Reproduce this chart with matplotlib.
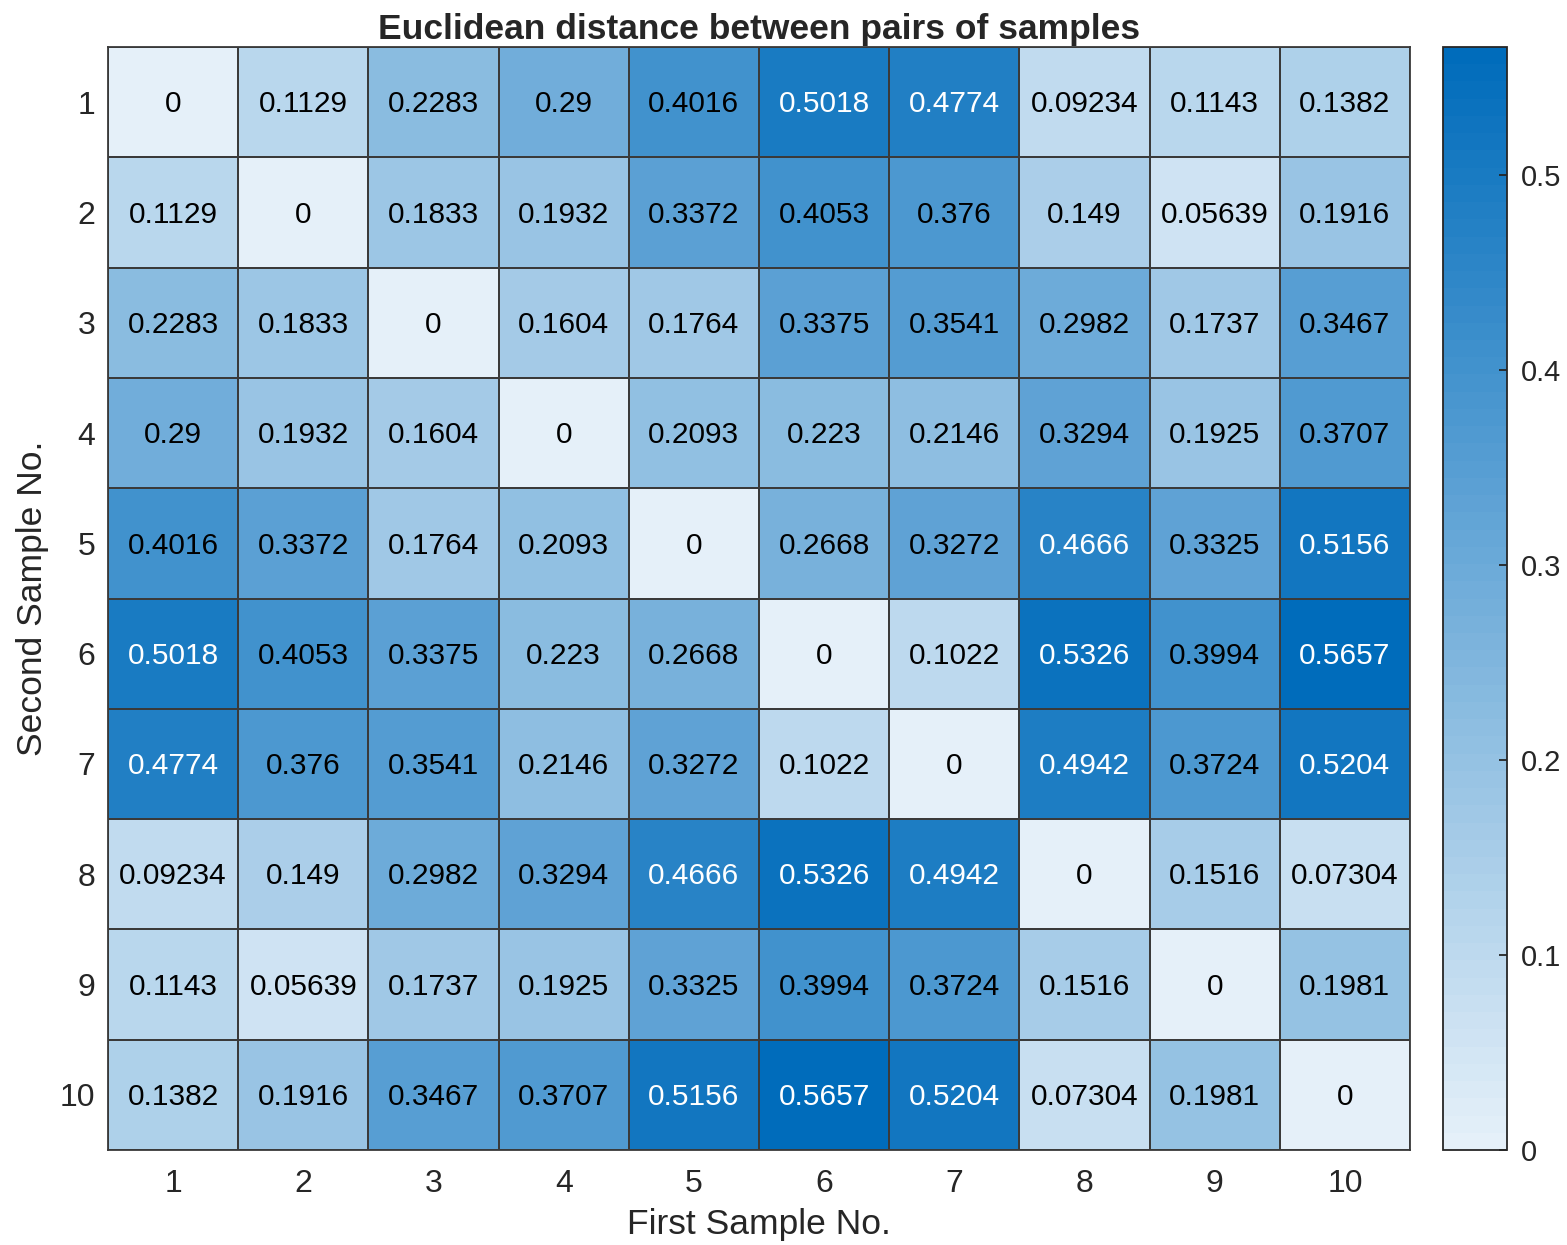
import numpy as np
import matplotlib
matplotlib.use("Agg")
import matplotlib.pyplot as plt
from matplotlib.colors import ListedColormap

plt.rcParams['font.family'] = ['Liberation Sans', 'DejaVu Sans']

labels = [str(i) for i in range(1, 11)]
D = np.array([
    [0, 0.1129, 0.2283, 0.29, 0.4016, 0.5018, 0.4774, 0.09234, 0.1143, 0.1382],
    [0.1129, 0, 0.1833, 0.1932, 0.3372, 0.4053, 0.376, 0.149, 0.05639, 0.1916],
    [0.2283, 0.1833, 0, 0.1604, 0.1764, 0.3375, 0.3541, 0.2982, 0.1737, 0.3467],
    [0.29, 0.1932, 0.1604, 0, 0.2093, 0.223, 0.2146, 0.3294, 0.1925, 0.3707],
    [0.4016, 0.3372, 0.1764, 0.2093, 0, 0.2668, 0.3272, 0.4666, 0.3325, 0.5156],
    [0.5018, 0.4053, 0.3375, 0.223, 0.2668, 0, 0.1022, 0.5326, 0.3994, 0.5657],
    [0.4774, 0.376, 0.3541, 0.2146, 0.3272, 0.1022, 0, 0.4942, 0.3724, 0.5204],
    [0.09234, 0.149, 0.2982, 0.3294, 0.4666, 0.5326, 0.4942, 0, 0.1516, 0.07304],
    [0.1143, 0.05639, 0.1737, 0.1925, 0.3325, 0.3994, 0.3724, 0.1516, 0, 0.1981],
    [0.1382, 0.1916, 0.3467, 0.3707, 0.5156, 0.5657, 0.5204, 0.07304, 0.1981, 0],
])
display_text = [
    ["0", "0.1129", "0.2283", "0.29", "0.4016", "0.5018", "0.4774", "0.09234", "0.1143", "0.1382"],
    ["0.1129", "0", "0.1833", "0.1932", "0.3372", "0.4053", "0.376", "0.149", "0.05639", "0.1916"],
    ["0.2283", "0.1833", "0", "0.1604", "0.1764", "0.3375", "0.3541", "0.2982", "0.1737", "0.3467"],
    ["0.29", "0.1932", "0.1604", "0", "0.2093", "0.223", "0.2146", "0.3294", "0.1925", "0.3707"],
    ["0.4016", "0.3372", "0.1764", "0.2093", "0", "0.2668", "0.3272", "0.4666", "0.3325", "0.5156"],
    ["0.5018", "0.4053", "0.3375", "0.223", "0.2668", "0", "0.1022", "0.5326", "0.3994", "0.5657"],
    ["0.4774", "0.376", "0.3541", "0.2146", "0.3272", "0.1022", "0", "0.4942", "0.3724", "0.5204"],
    ["0.09234", "0.149", "0.2982", "0.3294", "0.4666", "0.5326", "0.4942", "0", "0.1516", "0.07304"],
    ["0.1143", "0.05639", "0.1737", "0.1925", "0.3325", "0.3994", "0.3724", "0.1516", "0", "0.1981"],
    ["0.1382", "0.1916", "0.3467", "0.3707", "0.5156", "0.5657", "0.5204", "0.07304", "0.1981", "0"],
]

light = np.array([229, 240, 249]) / 255
dark = np.array([0, 108, 187]) / 255
n = 64
t = np.linspace(0, 1, n)[:, None]
cmap = ListedColormap(light * (1 - t) + dark * t)
vmin, vmax = 0, D.max()

W, H = 1567, 1245
fig = plt.figure(figsize=(W / 100, H / 100), dpi=100)
ax = fig.add_axes([108 / W, 1 - 1150 / H, (1410 - 108) / W, (1150 - 47) / H])
cax = fig.add_axes([1443 / W, 1 - 1150 / H, (1507 - 1443) / W, (1150 - 47) / H])

m = ax.pcolormesh(np.arange(11) + 0.5, np.arange(11) + 0.5, D, cmap=cmap,
                  vmin=vmin, vmax=vmax, edgecolor='#3a3a3a', linewidth=1.3)
ax.set_xlim(0.5, 10.5)
ax.set_ylim(10.5, 0.5)
ax.set_xticks(range(1, 11))
ax.set_xticklabels(labels)
ax.set_yticks(range(1, 11))
ax.set_yticklabels(labels)
ax.tick_params(length=0, labelsize=23, colors='#262626')
ax.tick_params(axis='x', pad=14)
ax.tick_params(axis='y', pad=9)
for s in ax.spines.values():
    s.set_color('#3a3a3a')
    s.set_linewidth(1.3)

for i in range(10):
    for j in range(10):
        v = D[i, j]
        c = 'white' if v / vmax > 0.78 else 'black'
        ax.text(j + 1, i + 1.02, display_text[i][j], ha='center', va='center',
                fontsize=21.5, color=c)

ax.set_xlabel('First Sample No.', fontsize=25.5, color='#262626', labelpad=6)
ax.set_ylabel('Second Sample No.', fontsize=25.5, color='#262626', labelpad=8)
ax.set_title('Euclidean distance between pairs of samples', fontsize=25.5,
             fontweight='bold', color='#262626', pad=6)

cb = fig.colorbar(m, cax=cax)
cb.set_ticks([0, 0.1, 0.2, 0.3, 0.4, 0.5])
cb.set_ticklabels(['0', '0.1', '0.2', '0.3', '0.4', '0.5'])
cax.tick_params(labelsize=21, colors='#262626', direction='in', length=6, width=1.3, pad=10)
cb.outline.set_edgecolor('#262626')
cb.outline.set_linewidth(1.3)

fig.savefig('out.png', dpi=100)
